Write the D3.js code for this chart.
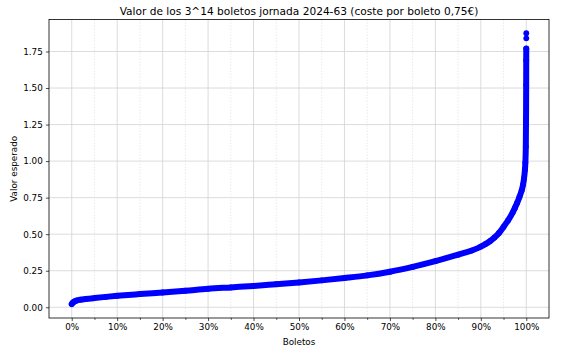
<!DOCTYPE html>
<html>
<head>
<meta charset="utf-8">
<script src="https://cdn.jsdelivr.net/npm/d3@7"></script>
<style>
  html, body { margin: 0; padding: 0; background: #fff; }
  svg { display: block; font-family: "DejaVu Sans", sans-serif; }
</style>
</head>
<body>
<svg id="chart" width="564" height="350"></svg>
<script>
// ---- data ----
const titleText = "Valor de los 3^14 boletos jornada 2024-63 (coste por boleto 0,75€)";
const xLabel = "Boletos";
const yLabel = "Valor esperado";
const xTicks = [0, 0.1, 0.2, 0.3, 0.4, 0.5, 0.6, 0.7, 0.8, 0.9, 1.0];
const xMinorTicks = [0.05, 0.15, 0.25, 0.35, 0.45, 0.55, 0.65, 0.75, 0.85, 0.95];
const yTicks = [0, 0.25, 0.5, 0.75, 1.0, 1.25, 1.5, 1.75];
// fraction of tickets (sorted) and expected value
const boletosPct = [0, 0.002, 0.005, 0.01, 0.02, 0.03, 0.05, 0.075, 0.10, 0.15, 0.20, 0.25, 0.30, 0.35, 0.40,
  0.45, 0.50, 0.55, 0.60, 0.65, 0.70, 0.75, 0.80, 0.85, 0.88, 0.90, 0.91, 0.92, 0.93, 0.94, 0.95, 0.96, 0.97,
  0.975, 0.98, 0.985, 0.99, 0.993, 0.995, 0.997, 0.998, 0.999, 0.9995, 0.9998, 0.9999, 1.0, 1.0, 1.0];
const valorEsperado = [0.022, 0.030, 0.038, 0.045, 0.052, 0.056, 0.063, 0.071, 0.078, 0.090, 0.101, 0.113, 0.126, 0.136, 0.146,
  0.158, 0.170, 0.184, 0.200, 0.218, 0.243, 0.276, 0.315, 0.360, 0.388, 0.415, 0.432, 0.452, 0.477, 0.508, 0.550, 0.595, 0.648,
  0.680, 0.715, 0.755, 0.800, 0.840, 0.880, 0.940, 0.990, 1.100, 1.300, 1.520, 1.690, 1.770, 1.840, 1.875];

const data = boletosPct.map((p, i) => ({p, v: valorEsperado[i]}));

const svg = d3.select("#chart");
const L = 49, R = 549, T = 19.5, B = 318;

const x = d3.scaleLinear().domain([-0.05, 1.05]).range([L, R]);
const y = d3.scaleLinear().domain([-0.0735, 1.969]).range([B, T]);

// grid
const g = svg.append("g");
g.selectAll(".minor").data(xMinorTicks).enter().append("line")
  .attr("x1", d => x(d)).attr("x2", d => x(d)).attr("y1", T).attr("y2", B)
  .attr("stroke", "#e4e4e4").attr("stroke-width", 0.8).attr("stroke-dasharray", "1.5,1.5");
g.selectAll(".vmaj").data(xTicks).enter().append("line")
  .attr("x1", d => x(d)).attr("x2", d => x(d)).attr("y1", T).attr("y2", B)
  .attr("stroke", "#d3d3d3").attr("stroke-width", 0.8);
g.selectAll(".hmaj").data(yTicks).enter().append("line")
  .attr("x1", L).attr("x2", R).attr("y1", d => y(d)).attr("y2", d => y(d))
  .attr("stroke", "#d3d3d3").attr("stroke-width", 0.8);

// series
svg.append("clipPath").attr("id", "clip").append("rect")
  .attr("x", L).attr("y", T).attr("width", R - L).attr("height", B - T);
const plot = svg.append("g").attr("clip-path", "url(#clip)");
const dense = data.slice(0, data.length - 2);
plot.append("path").datum(dense)
  .attr("d", d3.line().x(d => x(d.p)).y(d => y(d.v)).curve(d3.curveMonotoneX))
  .attr("fill", "none").attr("stroke", "#0000ff").attr("stroke-width", 6)
  .attr("stroke-linecap", "round").attr("stroke-linejoin", "round");
plot.selectAll("circle").data(data).enter().append("circle")
  .attr("cx", d => x(d.p)).attr("cy", d => y(d.v)).attr("r", 2.9)
  .attr("fill", "#0000ff");

// axes
const xAxis = d3.axisBottom(x).tickValues(xTicks).tickFormat(d3.format(".0%")).tickSize(3.1).tickPadding(3.1);
const xg = svg.append("g").attr("transform", `translate(0,${B})`).call(xAxis);
const xMinor = d3.axisBottom(x).tickValues(xMinorTicks).tickFormat("").tickSize(1.8);
svg.append("g").attr("transform", `translate(0,${B})`).call(xMinor).select(".domain").remove();
const yAxis = d3.axisLeft(y).tickValues(yTicks).tickFormat(d3.format(".2f")).tickSize(3.1).tickPadding(3.1);
const yg = svg.append("g").attr("transform", `translate(${L},0)`).call(yAxis);
svg.selectAll(".tick text").attr("font-family", "DejaVu Sans").attr("font-size", 8.8).attr("fill", "#000");
svg.selectAll(".tick line").attr("stroke", "#000").attr("stroke-width", 0.7);
xg.select(".domain").remove();
yg.select(".domain").remove();

// spines
svg.append("rect").attr("x", L).attr("y", T).attr("width", R - L).attr("height", B - T)
  .attr("fill", "none").attr("stroke", "#000").attr("stroke-width", 0.8);

// labels
svg.append("text").attr("x", (L + R) / 2).attr("y", 15).attr("text-anchor", "middle")
  .attr("font-size", 10.6).attr("fill", "#000").text(titleText);
svg.append("text").attr("x", (L + R) / 2).attr("y", 344.5).attr("text-anchor", "middle")
  .attr("font-size", 8.8).attr("fill", "#000").text(xLabel);
svg.append("text").attr("transform", `translate(16.5,${(T + B) / 2}) rotate(-90)`).attr("text-anchor", "middle")
  .attr("font-size", 8.8).attr("fill", "#000").text(yLabel);
</script>
</body>
</html>
